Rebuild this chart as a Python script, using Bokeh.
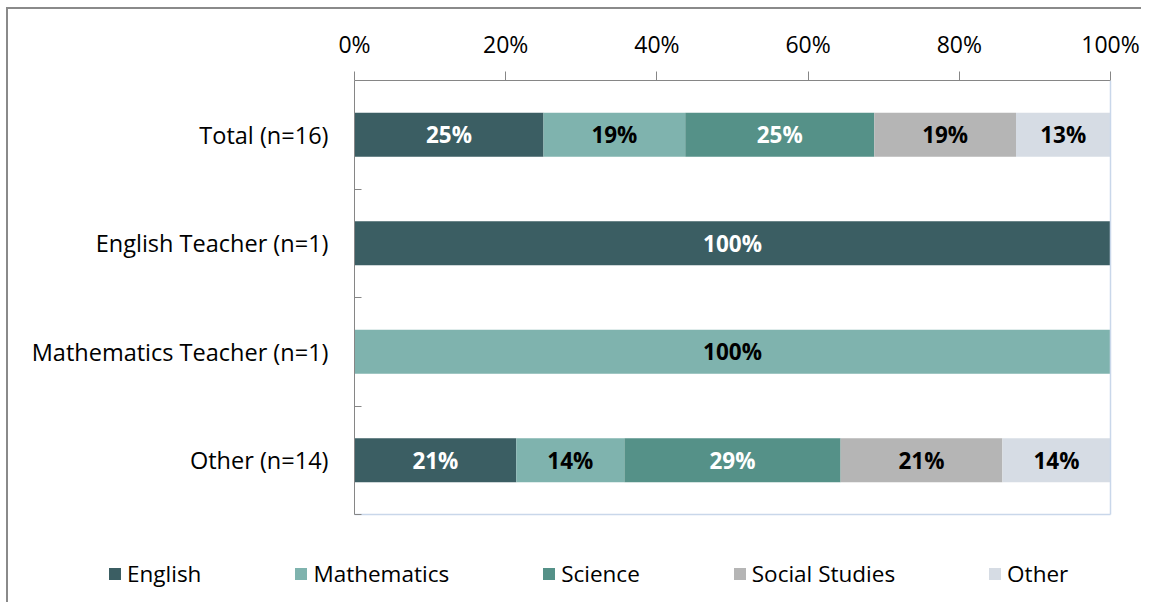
from bokeh.plotting import figure
from bokeh.models import (ColumnDataSource, FixedTicker, PrintfTickFormatter, Legend,
                          LegendItem, Range1d, LinearAxis)
from bokeh.core.properties import value
from bokeh.embed import file_html
from bokeh.resources import INLINE

groups = ["Total (n=16)", "English Teacher (n=1)", "Mathematics Teacher (n=1)", "Other (n=14)"]
subjects = ["English", "Mathematics", "Science", "Social Studies", "Other"]
english = [25.0, 100.0, 0.0, 21.4]
mathematics = [18.75, 0.0, 100.0, 14.3]
science = [25.0, 0.0, 0.0, 28.6]
social_studies = [18.75, 0.0, 0.0, 21.4]
other = [12.5, 0.0, 0.0, 14.3]
x_ticks = [0, 20, 40, 60, 80, 100]

series = [english, mathematics, science, social_studies, other]
colors = ["#3B5E63", "#7FB3AE", "#559188", "#B5B5B5", "#D6DCE4"]
label_colors = ["#FFFFFF", "#000000", "#FFFFFF", "#000000", "#000000"]

FONT = "Open Sans"
n = len(groups)
ypos = [n - i - 0.5 for i in range(n)]

# layout geometry (pixels)
W, H = 1135, 595
TOP = 71              # space above the bar area (top axis)
X0, X1 = 346, 1102    # pixel position of 0% and 100% in the canvas
AREA_H = 434          # pixel height of the bar area
px_x = 100.0 / (X1 - X0)
px_y = n / AREA_H
x_range = Range1d(-X0 * px_x, 100 + (W - X1) * px_x)
y_range = Range1d(n - (H - TOP) * px_y, n)

p = figure(width=W, height=H, output_backend="svg", toolbar_location=None,
           x_range=x_range, y_range=y_range, x_axis_location="above",
           min_border_left=0, min_border_right=0, min_border_top=TOP, min_border_bottom=0)
p.margin = (7, 0, 0, 6)
p.styles = {"border-left": "2px solid #8A8A8A", "border-top": "2px solid #8A8A8A"}
p.xgrid.visible = False
p.ygrid.visible = False
p.outline_line_color = None

left = [0.0] * n
items = []
for name, vals, col, lcol in zip(subjects, series, colors, label_colors):
    right = [l + v for l, v in zip(left, vals)]
    src = ColumnDataSource(dict(y=ypos, left=left, right=right))
    r = p.hbar(y="y", left="left", right="right", height=0.405, source=src,
               fill_color=col, line_color=None)
    items.append(LegendItem(label=name, renderers=[r]))
    lx, ly, lt = [], [], []
    for yy, l, v in zip(ypos, left, vals):
        if v > 0:
            lx.append(l + v / 2)
            ly.append(yy)
            lt.append(f"{int(v + 0.5)}%")
    tsrc = ColumnDataSource(dict(x=lx, y=ly, t=lt))
    p.text(x="x", y="y", text="t", source=tsrc, text_align="center", text_baseline="middle",
           text_font=value(FONT), text_font_style="bold", text_font_size="22.5px", text_color=lcol)
    left = right

# top percentage axis
xa = p.xaxis[0]
xa.bounds = (0, 100)
xa.ticker = FixedTicker(ticks=x_ticks)
xa.formatter = PrintfTickFormatter(format="%d%%")
xa.axis_line_color = "#868686"
xa.major_tick_line_color = "#868686"
xa.major_tick_out = 9
xa.major_tick_in = 0
xa.minor_tick_line_color = None
xa.major_label_standoff = 12
xa.major_label_text_font = FONT
xa.major_label_text_font_size = "23px"
xa.major_label_text_color = "#000000"

# left category axis, fixed at 0%
ya = p.yaxis[0]
ya.fixed_location = 0
ya.bounds = (0, n)
ya.ticker = FixedTicker(ticks=ypos, minor_ticks=[float(i) for i in range(n + 1)])
ya.major_label_overrides = {yy: g for yy, g in zip(ypos, groups)}
ya.axis_line_color = "#868686"
ya.major_tick_line_color = None
ya.major_tick_in = 0
ya.major_tick_out = 0
ya.minor_tick_line_color = "#868686"
ya.minor_tick_in = 7
ya.minor_tick_out = 0
ya.major_label_standoff = 26
ya.major_label_text_font = FONT
ya.major_label_text_font_size = "23.5px"
ya.major_label_text_color = "#000000"

# light plot-area edges (right and bottom)
edge = "#C9D7EA"
ra = LinearAxis(fixed_location=100, bounds=(0, n), ticker=FixedTicker(ticks=[]),
                axis_line_color=edge, axis_line_width=1.5, major_tick_line_color=None,
                minor_tick_line_color=None, major_label_text_alpha=0)
p.add_layout(ra, "right")
ba = LinearAxis(fixed_location=0, bounds=(0, 100), ticker=FixedTicker(ticks=[]),
                axis_line_color=edge, axis_line_width=1.5, major_tick_line_color=None,
                minor_tick_line_color=None, major_label_text_alpha=0)
p.add_layout(ba, "below")

legend = Legend(items=items, orientation="horizontal", location=(99, 15),
                spacing=92, label_standoff=5, glyph_width=15, glyph_height=15,
                label_text_font=FONT, label_text_font_size="22.5px", label_text_color="#000000",
                padding=0, margin=0, border_line_color=None, background_fill_alpha=0)
p.add_layout(legend, "center")

open("out.html", "w").write(file_html(p, INLINE))
